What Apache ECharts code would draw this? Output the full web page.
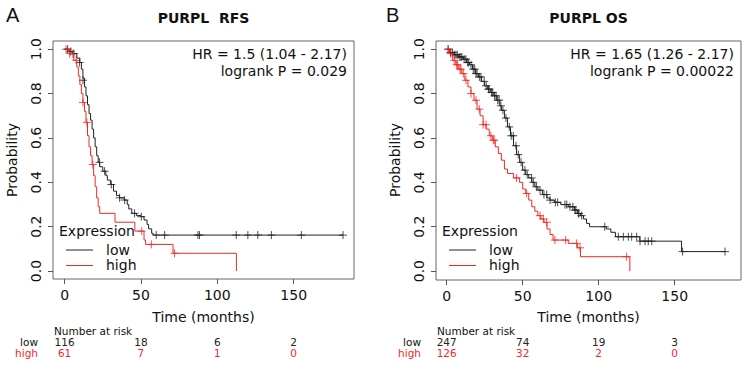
<!DOCTYPE html>
<html>
<head>
<meta charset="utf-8">
<script src="https://cdn.jsdelivr.net/npm/echarts@6/dist/echarts.min.js"></script>
<style>
html, body { margin: 0; padding: 0; background: #fff; }
#chart { width: 742px; height: 367px; }
</style>
</head>
<body>
<div id="chart"></div>
<script>
// Kaplan-Meier step points [months, survival]
const rfsLow = [[0,1],[3,0.99],[5,0.98],[8,0.96],[10,0.94],[11,0.91],[12,0.87],[13,0.83],[14,0.79],[15,0.75],[16,0.71],[17,0.68],[18,0.64],[19,0.60],[20,0.56],[21,0.52],[22,0.49],[23,0.47],[25,0.45],[27,0.43],[28,0.41],[30,0.39],[32,0.36],[34,0.34],[36,0.33],[39,0.32],[41,0.30],[42,0.28],[44,0.26],[47,0.25],[50,0.245],[52,0.23],[54,0.21],[55,0.19],[57,0.17],[58,0.162],[182.5,0.162]];
const rfsHigh = [[0,1],[3,0.98],[6,0.95],[8,0.92],[9,0.88],[10,0.84],[11,0.80],[12,0.76],[13,0.72],[14,0.67],[15,0.61],[16,0.56],[17,0.52],[18,0.48],[19,0.43],[20,0.38],[21,0.33],[22,0.29],[23,0.26],[33,0.22],[46,0.18],[52,0.14],[53,0.12],[71,0.08],[112.5,0]];
const osLow = [[0,1],[2,0.985],[5,0.975],[8,0.965],[11,0.955],[13,0.94],[15,0.93],[17,0.91],[19,0.89],[21,0.875],[23,0.855],[25,0.835],[27,0.82],[29,0.805],[31,0.79],[33,0.77],[35,0.745],[36,0.725],[38,0.69],[40,0.65],[42,0.61],[44,0.565],[46,0.525],[48,0.49],[50,0.455],[52,0.435],[54,0.42],[56,0.40],[58,0.38],[60,0.365],[63,0.345],[66,0.33],[68,0.32],[71,0.31],[75,0.30],[80,0.29],[84,0.275],[86,0.26],[88,0.25],[90,0.235],[92,0.215],[94,0.2],[105,0.19],[108,0.175],[111,0.155],[127,0.135],[154.5,0.088],[183,0.088]];
const osHigh = [[0,1],[2,0.98],[4,0.95],[6,0.93],[8,0.91],[10,0.89],[12,0.86],[14,0.83],[16,0.80],[18,0.77],[20,0.73],[22,0.70],[24,0.66],[26,0.64],[28,0.61],[30,0.59],[32,0.56],[34,0.53],[36,0.50],[38,0.46],[40,0.44],[44,0.42],[48,0.40],[50,0.37],[52,0.35],[54,0.32],[56,0.29],[58,0.27],[60,0.25],[62,0.235],[64,0.22],[66,0.19],[68,0.165],[70,0.14],[80,0.125],[86,0.105],[88,0.065],[120.5,0]];

// censored observations
const rfsLowCens = [[2,1.0],[4,0.99],[6,0.98],[9.8,0.94],[12,0.86],[22.9,0.49],[26.2,0.45],[30.6,0.39],[36,0.33],[39.3,0.32],[45.8,0.26],[50.2,0.245],[60,0.162],[65.5,0.162],[87.3,0.162],[88.3,0.162],[112.4,0.162],[120,0.162],[126.5,0.162],[135.4,0.162],[155,0.162],[182.3,0.162]];
const rfsHighCens = [[1,1.0],[3.3,0.98],[5.4,0.98],[7.6,0.95],[12,0.76],[14.6,0.67],[18.5,0.48],[50.5,0.18],[56.8,0.12],[72,0.08]];
const osLowCens = [[1,1.0],[2.5,0.985],[3.9,0.985],[5,0.975],[6.1,0.975],[7,0.975],[8.3,0.965],[9.4,0.965],[10,0.965],[11.5,0.955],[12.7,0.955],[13.8,0.94],[14.5,0.94],[16,0.93],[17.5,0.91],[18.5,0.91],[19.3,0.89],[20,0.89],[21.5,0.875],[22.6,0.875],[24.7,0.855],[26,0.835],[27.5,0.82],[28,0.82],[29.5,0.805],[30.3,0.805],[31.5,0.79],[32.5,0.79],[33.6,0.77],[34.5,0.77],[35.7,0.745],[37,0.725],[39,0.69],[41.2,0.65],[42.5,0.61],[43.8,0.61],[45.6,0.565],[47.1,0.525],[49,0.49],[51.5,0.455],[53,0.435],[55.9,0.42],[57,0.40],[59,0.38],[61.4,0.365],[64,0.345],[65.8,0.345],[68,0.32],[71.5,0.31],[73,0.31],[77.8,0.30],[79,0.30],[81.1,0.29],[83,0.29],[84.4,0.275],[85,0.275],[86.6,0.26],[87,0.26],[88.8,0.25],[104,0.2],[112.9,0.155],[116.2,0.155],[119.5,0.155],[121.7,0.155],[125,0.155],[127.2,0.135],[130.5,0.135],[132.6,0.135],[134.9,0.135],[155.2,0.088],[183.1,0.088]];
const osHighCens = [[1,1.0],[2.8,0.98],[5,0.95],[6.6,0.93],[7.2,0.93],[8.8,0.91],[9.4,0.91],[11,0.89],[12.7,0.86],[16,0.80],[19.3,0.77],[21.5,0.73],[24,0.66],[25.9,0.66],[29.1,0.61],[30.7,0.59],[31.3,0.59],[46,0.42],[52.6,0.35],[61.4,0.25],[63.6,0.235],[65.8,0.22],[71.2,0.14],[78.3,0.14],[85.5,0.125],[87.7,0.105],[118.4,0.065]];

// number at risk
const riskTimes = [0, 50, 100, 150];
const rfsRiskLow = [116, 18, 6, 2];
const rfsRiskHigh = [61, 7, 1, 0];
const osRiskLow = [247, 74, 19, 3];
const osRiskHigh = [126, 32, 2, 0];

const xTicks = [0, 50, 100, 150];
const yTicks = [0, 0.2, 0.4, 0.6, 0.8, 1.0];

const colLow = '#222222';
const colHigh = '#ee2a24';
const font = 'DejaVu Sans';
const cross = 'path://M5,0L5,10M0,5L10,5';

const gridA = {left: 53, top: 41, width: 301, height: 238};
const gridB = {left: 436, top: 41, width: 305, height: 239};

const chart = echarts.init(document.getElementById('chart'), null, {renderer: 'svg'});

function xAxisDef(idx, min, max) {
    return {
        type: 'value', gridIndex: idx, min: min, max: max, position: 'bottom',
        axisLine: {show: false, onZero: false},
        splitLine: {show: false},
        axisTick: {show: true, customValues: xTicks, length: 5, lineStyle: {color: '#555'}},
        axisLabel: {customValues: xTicks, fontSize: 14, fontFamily: font, color: '#111', margin: 9}
    };
}
function yAxisDef(idx, min, max) {
    return {
        type: 'value', gridIndex: idx, min: min, max: max, position: 'left',
        axisLine: {show: false, onZero: false},
        splitLine: {show: false},
        axisTick: {show: true, customValues: yTicks, length: 5, lineStyle: {color: '#555'}},
        axisLabel: {customValues: yTicks, fontSize: 14, fontFamily: font, color: '#111', rotate: 90, margin: 10,
            formatter: v => v.toFixed(1)}
    };
}
function curve(idx, data, color) {
    return {type: 'line', xAxisIndex: idx, yAxisIndex: idx, data: data, step: 'end',
        showSymbol: false, silent: true, lineStyle: {color: color, width: 1}};
}
function censor(idx, data, color) {
    return {type: 'scatter', xAxisIndex: idx, yAxisIndex: idx, data: data, symbol: cross,
        symbolSize: 8, silent: true,
        itemStyle: {color: 'rgba(0,0,0,0)', borderColor: color, borderWidth: 1}};
}

function txt(x, y, s, o) {
    o = o || {};
    return {type: 'text', x: x, y: y, rotation: o.rot || 0, silent: true,
        style: {text: s, x: 0, y: 0, fill: o.color || '#111', fontFamily: o.family || font,
            fontSize: o.size || 14, fontWeight: o.weight || 'normal',
            align: o.align || 'left', verticalAlign: 'middle'}};
}
function seg(x1, y1, x2, y2, color) {
    return {type: 'line', silent: true, shape: {x1: x1, y1: y1, x2: x2, y2: y2},
        style: {stroke: color, lineWidth: 1}};
}

function panelText(g, letter, title, hr, p, lx) {
    const cx = g.left + g.width / 2;
    const right = g.left + g.width - 7;
    return [
        txt(lx, 15, letter, {size: 20, family: 'Liberation Sans'}),
        txt(cx, 18, title, {weight: 'bold', align: 'center'}),
        txt(right, 54, hr, {align: 'right'}),
        txt(right, 71, p, {align: 'right'}),
        txt(cx, 317, 'Time (months)', {align: 'center'}),
        txt(g.left - 41, 160, 'Probability', {align: 'center', rot: Math.PI / 2}),
        txt(g.left + 6, 231, 'Expression'),
        seg(g.left + 13, 250, g.left + 40, 250, colLow),
        seg(g.left + 13, 265.5, g.left + 40, 265.5, colHigh),
        txt(g.left + 53, 250, 'low'),
        txt(g.left + 53, 265, 'high'),
        txt(g.left + 1, 331, 'Number at risk', {size: 10.5}),
        txt(g.left - 15, 342, 'low', {size: 10.5, align: 'right'}),
        txt(g.left - 15, 352.5, 'high', {size: 10.5, align: 'right', color: colHigh})
    ];
}

chart.setOption({
    animation: false,
    grid: [
        Object.assign({show: true, borderColor: '#666', borderWidth: 1}, gridA),
        Object.assign({show: true, borderColor: '#666', borderWidth: 1}, gridB)
    ],
    xAxis: [xAxisDef(0, -7.6, 189.5), xAxisDef(1, -7.0, 193.6)],
    yAxis: [yAxisDef(0, -0.036, 1.037), yAxisDef(1, -0.04, 1.037)],
    series: [
        curve(0, rfsLow, colLow), curve(0, rfsHigh, colHigh),
        censor(0, rfsLowCens, colLow), censor(0, rfsHighCens, colHigh),
        curve(1, osLow, colLow), curve(1, osHigh, colHigh),
        censor(1, osLowCens, colLow), censor(1, osHighCens, colHigh)
    ]
});

// number-at-risk rows placed on the time scale of each panel
function riskRow(idx, values, y, color) {
    return values.map((v, i) => {
        const px = chart.convertToPixel({xAxisIndex: idx}, riskTimes[i]);
        return txt(px, y, String(v), {size: 10.5, align: 'center', color: color});
    });
}

const graphics = [].concat(
    panelText(gridA, 'A', 'PURPL  RFS', 'HR = 1.5 (1.04 - 2.17)', 'logrank P = 0.029', 6),
    panelText(gridB, 'B', 'PURPL OS', 'HR = 1.65 (1.26 - 2.17)', 'logrank P = 0.00022', 386),
    riskRow(0, rfsRiskLow, 342, colLow), riskRow(0, rfsRiskHigh, 352.5, colHigh),
    riskRow(1, osRiskLow, 342, colLow), riskRow(1, osRiskHigh, 352.5, colHigh)
);
chart.setOption({graphic: graphics});
</script>
</body>
</html>
